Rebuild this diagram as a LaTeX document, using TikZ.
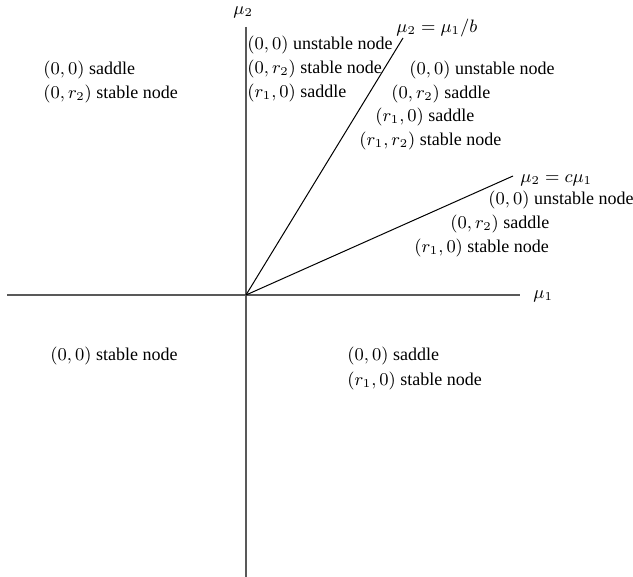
\documentclass[tikz,border=0pt]{standalone}
\usepackage{fontspec}
\setmainfont{Liberation Serif}
\begin{document}
\begin{tikzpicture}[x=0.5pt,y=-0.5pt,
  lbl/.style={anchor=west,inner sep=0pt,font=\fontsize{9}{11}\selectfont},
  axis/.style={draw=black!65,line width=0.6pt},
  bound/.style={draw=black,line width=0.5pt}]
\useasboundingbox (0,0) rectangle (633,577);
% axes
\coordinate (O) at (246,295);
\coordinate (xl) at (7,295);
\coordinate (xr) at (520,295);
\coordinate (yt) at (246,27);
\coordinate (yb) at (246,577);
\draw[axis] (xl) -- (xr);
\draw[axis] (yt) -- (yb);
\node[lbl] (mu1) at (533,296) {$\mu_1$};
\node[lbl] (mu2) at (233,12) {$\mu_2$};
% boundary lines
\coordinate (l1) at (403,38);
\coordinate (l2) at (513,176);
\draw[bound] (O) -- (l1);
\draw[bound] (O) -- (l2);
\node[lbl] (lab1) at (396,28) {$\mu_2=\mu_1/b$};
\node[lbl] (lab2) at (520,180) {$\mu_2=c\mu_1$};
% upper left quadrant
\node[lbl] (ul1) at (43,70) {$(0,0)$ saddle};
\node[lbl] (ul2) at (43,94) {$(0,r_2)$ stable node};
% between axis and line 1
\node[lbl] (a1) at (247,45) {$(0,0)$ unstable node};
\node[lbl] (a2) at (247,69) {$(0,r_2)$ stable node};
\node[lbl] (a3) at (247,93) {$(r_1,0)$ saddle};
% between the two lines
\node[lbl] (b1) at (409,70) {$(0,0)$ unstable node};
\node[lbl] (b2) at (391,94) {$(0,r_2)$ saddle};
\node[lbl] (b3) at (375,117) {$(r_1,0)$ saddle};
\node[lbl] (b4) at (359,141) {$(r_1,r_2)$ stable node};
% below line 2
\node[lbl] (c1) at (488,200) {$(0,0)$ unstable node};
\node[lbl] (c2) at (450,224) {$(0,r_2)$ saddle};
\node[lbl] (c3) at (414,248) {$(r_1,0)$ stable node};
% lower quadrants
\node[lbl] (lr1) at (347,356) {$(0,0)$ saddle};
\node[lbl] (lr2) at (347,381) {$(r_1,0)$ stable node};
\node[lbl] (ll1) at (50,356) {$(0,0)$ stable node};
\end{tikzpicture}
\end{document}
